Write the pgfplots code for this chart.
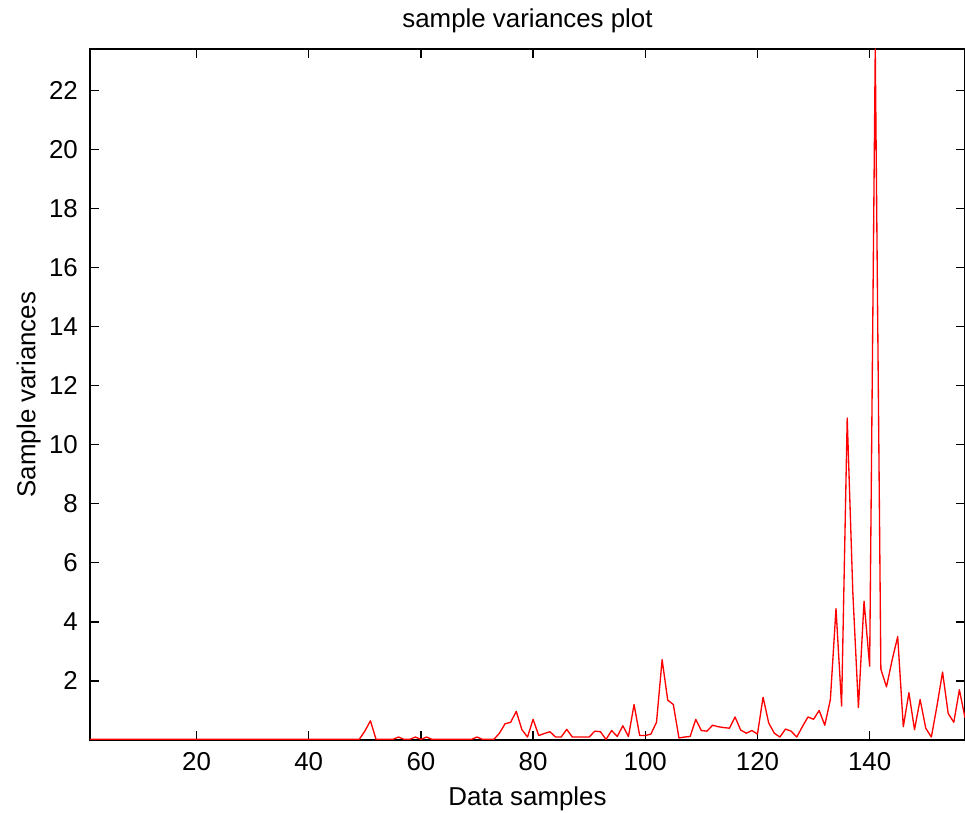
\documentclass[border=0pt]{standalone}
\usepackage{fontspec}
\setmainfont{Liberation Sans}
\usepackage{pgfplots}
\pgfplotsset{compat=1.18}
\pgfplotstableread{
x y
1 0.02
2 0.02
3 0.02
4 0.02
5 0.02
6 0.02
7 0.02
8 0.02
9 0.02
10 0.02
11 0.02
12 0.02
13 0.02
14 0.02
15 0.02
16 0.02
17 0.02
18 0.02
19 0.02
20 0.02
21 0.02
22 0.02
23 0.02
24 0.02
25 0.02
26 0.02
27 0.02
28 0.02
29 0.02
30 0.02
31 0.02
32 0.02
33 0.02
34 0.02
35 0.02
36 0.02
37 0.02
38 0.02
39 0.02
40 0.02
41 0.02
42 0.02
43 0.02
44 0.02
45 0.02
46 0.02
47 0.02
48 0.02
49 0.02
50 0.3
51 0.65
52 0.02
53 0.02
54 0.02
55 0.02
56 0.1
57 0.02
58 0.02
59 0.1
60 0.02
61 0.1
62 0.02
63 0.02
64 0.02
65 0.02
66 0.02
67 0.02
68 0.02
69 0.02
70 0.1
71 0.02
72 0.02
73 0.02
74 0.23
75 0.55
76 0.6
77 0.97
78 0.35
79 0.1
80 0.7
81 0.15
82 0.22
83 0.28
84 0.1
85 0.1
86 0.36
87 0.1
88 0.1
89 0.1
90 0.1
91 0.3
92 0.28
93 0.02
94 0.32
95 0.12
96 0.48
97 0.12
98 1.2
99 0.15
100 0.15
101 0.2
102 0.6
103 2.72
104 1.35
105 1.2
106 0.07
107 0.1
108 0.12
109 0.7
110 0.32
111 0.3
112 0.5
113 0.45
114 0.42
115 0.4
116 0.78
117 0.34
118 0.23
119 0.32
120 0.2
121 1.45
122 0.58
123 0.23
124 0.1
125 0.37
126 0.3
127 0.1
128 0.45
129 0.78
130 0.7
131 1.0
132 0.5
133 1.37
134 4.45
135 1.15
136 10.9
137 5.0
138 1.1
139 4.7
140 2.5
141 23.4
142 2.4
143 1.8
144 2.7
145 3.5
146 0.45
147 1.6
148 0.35
149 1.37
150 0.4
151 0.1
152 1.15
153 2.3
154 0.9
155 0.6
156 1.7
157 0.75
}\vardata
\begin{document}
\fontsize{19.4}{23}\selectfont
\begin{tikzpicture}
\begin{axis}[
  name=ax,
  scale only axis,
  width=656.25pt, height=518.25pt,
  xmin=1, xmax=157, ymin=0, ymax=23.4,
  xtick={20,40,...,140}, ytick={2,4,...,22},
  tick align=inside, major tick length=6.75pt,
  axis line style={line width=1pt},
  every tick/.style={black, line width=1pt},
  tick label style={font=\fontsize{19.4}{23}\selectfont},
  xticklabel style={yshift=-2.5pt},
  yticklabel style={xshift=-2.5pt},
  /pgf/number format/assume math mode=true,
  title={sample variances plot},
  title style={at={(axis description cs:0.5,1.029)}, anchor=center},
  xlabel={Data samples},
  xlabel style={at={(axis description cs:0.5,-0.085)}, anchor=center},
  ylabel={Sample variances},
  ylabel style={at={(axis description cs:-0.07,0.5)}, anchor=center},
]
\addplot[red, line width=1pt, line join=round, mark=none] table[x=x, y=y] {\vardata};
\end{axis}
\pgfresetboundingbox
\path[use as bounding box] ([xshift=-67.5pt,yshift=-54.75pt]ax.south west) rectangle ([yshift=36.75pt]ax.north east);
\end{tikzpicture}
\end{document}
